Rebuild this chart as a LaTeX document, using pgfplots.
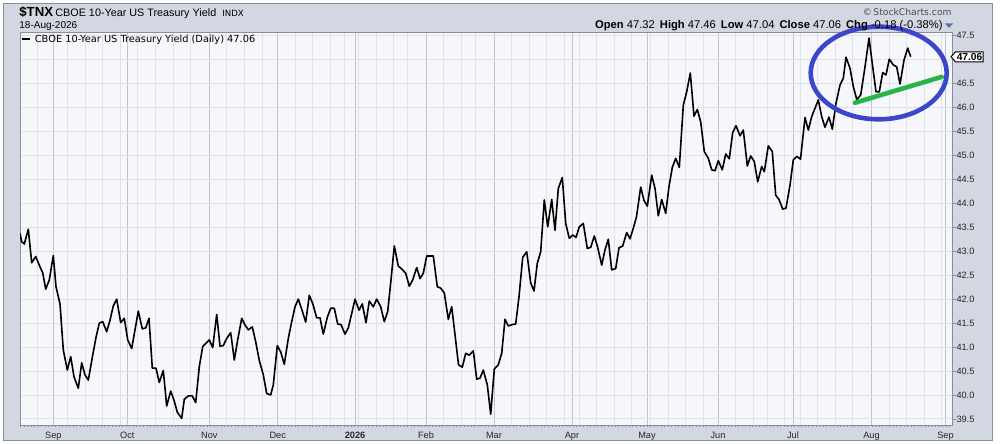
\documentclass[border=0pt]{standalone}
\usepackage{fontspec}
\setmainfont{Liberation Sans}
\newfontfamily\dejavu{DejaVu Sans}
\usepackage{pgfplots}
\pgfplotsset{compat=1.18}

\definecolor{framebg}{RGB}{211,215,226}
\definecolor{plotbg}{RGB}{246,247,251}
\definecolor{gridmin}{RGB}{224,226,232}
\definecolor{gridmaj}{RGB}{192,195,204}
\definecolor{borderc}{RGB}{140,142,150}
\definecolor{ringblue}{RGB}{60,70,200}
\definecolor{trendgreen}{RGB}{40,180,75}
\definecolor{arrowc}{RGB}{95,115,165}

% 1 px of the reference = 0.5pt
\begin{document}
\begin{tikzpicture}
\begin{scope}[x=0.5pt,y=-0.5pt,yshift=222pt]
  \fill[white] (0,0) rectangle (1001,444);
  \fill[framebg] (3.5,3.5) rectangle (992.5,440.5);
  \draw[borderc, line width=0.5pt] (3.5,3.5) rectangle (992.5,440.5);
\end{scope}

\begin{axis}[
    at={(10pt,9.5pt)}, anchor=south west,
    scale only axis,
    width=466.25pt, height=196.5pt,
    xmin=20, xmax=952.5,
    ymin=39.373, ymax=47.577,
    axis background/.style={fill=plotbg},
    axis line style={borderc, line width=0.4pt},
    xtick={53.3,127.3,209.3,277.7,355,426,494,572,647,718,793,871.5,945.5},
    xticklabels={Sep,Oct,Nov,Dec,\textbf{2026},Feb,Mar,Apr,May,Jun,Jul,Aug,Sep},
    minor xtick={37.6,67.4,85.0,102.6,120.2,137.9,155.5,173.1,190.7,226.9,244.5,262.1,295.3,312.9,330.5,344.6,358.5,376.1,393.7,407.8,443.6,461.2,475.3,511.6,529.2,546.8,564.4,579.0,596.6,614.2,631.8,650.5,668.1,685.7,703.3,735.6,753.2,767.3,784.9,800,817.6,835.2,852.8,889.1,906.7,924.3,941.9},
    xtick pos=bottom,
    xtick style={draw=none},
    minor tick length=0pt,
    xmajorgrids, xminorgrids,
    major x grid style={gridmaj, line width=0.45pt},
    minor x grid style={gridmin, line width=0.45pt},
    xticklabel style={anchor=base, yshift=-5.5pt, inner sep=0pt,
        font=\fontsize{4.6}{5}\selectfont, text=black!85},
    ytick={39.5,40,40.5,41,41.5,42,42.5,43,43.5,44,44.5,45,45.5,46,46.5,47,47.5},
    yticklabels={39.5,40.0,40.5,41.0,41.5,42.0,42.5,43.0,43.5,44.0,44.5,45.0,45.5,46.0,46.5,,47.5},
    ytick pos=right, yticklabel pos=right,
    tick align=outside,
    major tick length=1.5pt,
    ytick style={borderc, line width=0.4pt},
    ymajorgrids,
    major y grid style={gridmin, line width=0.45pt},
    yticklabel style={anchor=west, inner sep=0pt, xshift=0.3pt,
        font=\fontsize{4.6}{5}\selectfont, text=black!85},
]

\addplot[black, line width=0.8pt, line join=round] coordinates {
(20,43.37) (21.7,43.20) (24.3,43.15) (28.3,43.46) (31.7,42.76) (35.7,42.89)
(39.3,42.71) (42.7,42.55) (45.7,42.21) (49.3,42.40) (53.3,42.91) (56,42.26)
(60,41.90) (63.3,40.94) (67.3,40.52) (70.7,40.80) (74,40.38) (78.3,40.14)
(81.7,40.67) (85,40.42) (88.3,40.31) (92.7,40.83) (96,41.20) (99.3,41.50)
(102.7,41.53) (106.7,41.32) (110,41.56) (113.3,41.86) (116.7,42.00) (120.7,41.51)
(124.3,41.60) (127.7,41.15) (131.7,40.97) (135,41.36) (138.3,41.75) (142.3,41.38)
(145.7,41.40) (149,41.60) (152.3,40.56) (156,40.56) (159.3,40.26) (163.3,40.51)
(166.7,39.77) (170.7,40.08) (174,39.89) (177.3,39.64) (181.7,39.51) (184.3,39.91)
(188.3,39.98) (192.3,39.98) (195.7,39.84) (199.3,40.59) (202.7,41.01) (206,41.08)
(209.3,41.15) (212.7,40.99) (216.7,41.68) (220,41.02) (223.3,41.03) (226.7,41.18)
(230.7,41.30) (234.3,40.73) (237.7,41.15) (241.7,41.60) (245,41.46) (248.3,41.36)
(252.3,41.42) (255.7,41.11) (259.3,40.72) (263.3,40.42) (266.7,40.03) (270.7,40.00)
(273.3,40.21) (277.3,41.03) (280.7,40.90) (284.3,40.64) (288.3,41.18) (291.7,41.53)
(295,41.84) (298.3,42.00) (302,41.77) (305.7,41.52) (309.3,42.08) (312.7,41.91)
(316.7,41.61) (320,41.61) (323.3,41.27) (327.3,41.62) (330.7,41.81) (334.3,41.81)
(337.7,41.48) (341,41.47) (345,41.27) (348.3,41.40) (351.7,41.70) (355,42.00)
(359,41.77) (362.3,41.90) (366,41.51) (369.3,41.96) (373.3,41.84) (376.7,42.00)
(380.7,41.84) (384.3,41.53) (387.7,41.74) (391,42.40) (394.3,43.11) (398.3,42.69)
(402.3,42.62) (405.7,42.54) (409.3,42.27) (412.7,42.40) (416.7,42.66) (420,42.43)
(423.3,42.54) (426.7,42.90) (433.3,42.90) (437.3,42.26) (440.7,42.23) (444.3,42.13)
(448.3,41.58) (451.7,41.84) (455,41.26) (458.5,40.63) (462.3,40.58) (465.7,40.87)
(469.3,40.83) (473.3,40.92) (476.7,40.33) (480,40.35) (483.3,40.52) (487.3,40.21)
(490.7,39.60) (494.3,40.54) (498.3,40.63) (501.7,40.87) (505,41.58) (508.3,41.44)
(512.3,41.47) (515.7,41.48) (519,42.05) (522.7,42.87) (526.7,42.99) (530.7,42.34)
(534,42.17) (537.3,42.75) (540.7,42.99) (544.3,44.07) (547.7,43.51) (551.7,44.08)
(555,43.44) (558.3,44.31) (562.3,44.54) (565.7,43.58) (569.3,43.27) (572.7,43.34)
(576,43.29) (579.3,43.51) (583.3,43.58) (587.3,43.06) (590.7,43.08) (594.3,43.32)
(597.7,43.08) (601.7,42.71) (605,43.03) (608.3,43.25) (611.7,42.61) (615.7,42.64)
(619,43.07) (622.7,43.11) (626.7,43.39) (630,43.26) (633.3,43.48) (636.5,43.72)
(640.7,44.34) (644,44.06) (647.3,43.94) (651.7,44.59) (655,44.31) (658.3,43.74)
(661.7,44.08) (665.7,43.79) (669,44.35) (672.3,44.75) (675.7,44.94) (679.3,44.75)
(683.3,46.05) (686.7,46.33) (690.3,46.72) (694,45.82) (697.3,45.96) (700.7,45.70)
(704.3,45.08) (708.3,44.94) (711.7,44.70) (715,44.68) (718.3,44.89) (722.3,44.70)
(725.7,45.03) (729.3,44.93) (732.7,45.48) (736,45.62) (740,45.41) (743.3,45.53)
(747.3,44.78) (750.7,44.99) (754.3,44.87) (757.7,44.45) (761.7,44.77) (764.3,44.66)
(768.3,45.20) (772.3,45.08) (775.7,44.17) (779,44.08) (782.7,43.88) (786,43.90)
(790,44.38) (793.3,44.91) (797,44.98) (800.5,44.92) (805,45.79) (808.3,45.53)
(811.7,45.81) (818.3,46.16) (821.7,45.81) (825,45.59) (829,45.80) (832.3,45.55)
(836,46.09) (840,46.47) (843.3,46.61) (846,47.05) (850,46.82) (853.3,46.44)
(856.7,46.17) (860.7,46.26) (865,46.85) (869,47.45) (872.7,46.85) (876,46.33)
(879.3,46.33) (882.7,46.73) (886,46.68) (889.3,47.01) (893.3,46.89) (896.7,46.85)
(900,46.49) (904,46.99) (907.7,47.24) (910.7,47.06)
};

% hand-drawn trend line
\addplot[trendgreen, line width=2.3pt, line cap=round] coordinates {
(855,46.10) (941.7,46.64)
};
\end{axis}

\begin{scope}[x=0.5pt,y=-0.5pt,yshift=222pt]
  % daily tick marks under the axis
  \draw[borderc, line width=0.9pt, dash pattern=on 0.5pt off 1.26pt] (20,426) -- (952.5,426);
  % ring
  \draw[ringblue, line width=2.3pt] (878.7,73) ellipse [x radius=34pt, y radius=23.15pt];
  % last value marker
  \filldraw[fill=white, draw=black, line width=0.5pt]
    (951,56.8) -- (955.5,51.8) -- (983,51.8) -- (983,61.8) -- (955.5,61.8) -- cycle;
  \node[anchor=center, inner sep=0pt] at (969.5,57)
    {\fontsize{5.1}{5.5}\selectfont\bfseries 47.06};
  % legend inside the plot
  \draw[black, line width=1pt] (22,39.3) -- (29.5,39.3);
  \node[anchor=base west, inner sep=0pt] at (34.5,42.6)
    {\dejavu\fontsize{4.9}{5.5}\selectfont CBOE 10-Year US Treasury Yield (Daily) 47.06};
  % header
  \node[anchor=base west, inner sep=0pt] at (19,16.5)
    {\fontsize{6.6}{7}\selectfont\bfseries \$TNX};
  \node[anchor=base west, inner sep=0pt] at (55,16.5)
    {\fontsize{5.4}{6}\selectfont CBOE 10-Year US Treasury Yield};
  \node[anchor=base west, inner sep=0pt] at (222,16.5)
    {\dejavu\fontsize{4.3}{5}\selectfont INDX};
  \node[anchor=base west, inner sep=0pt] at (19,29)
    {\fontsize{5}{6}\selectfont 18-Aug-2026};
  \node[anchor=base east, inner sep=0pt, text=black!70] at (952,16)
    {\dejavu\fontsize{4.6}{5}\selectfont \textcopyright\,StockCharts.com};
  \node[anchor=base east, inner sep=0pt] at (943,29)
    {\fontsize{5.6}{6}\selectfont \textbf{Open} 47.32\hspace{2.5pt}\textbf{High} 47.46\hspace{2.5pt}\textbf{Low} 47.04\hspace{2.5pt}\textbf{Close} 47.06\hspace{2.5pt}\textbf{Chg} -0.18 (-0.38\%)};
  \fill[arrowc] (945,23.5) -- (953,23.5) -- (949,28) -- cycle;
  \pgfresetboundingbox
  \path[use as bounding box] (0,0) rectangle (1001,444);
\end{scope}
\end{tikzpicture}
\end{document}
